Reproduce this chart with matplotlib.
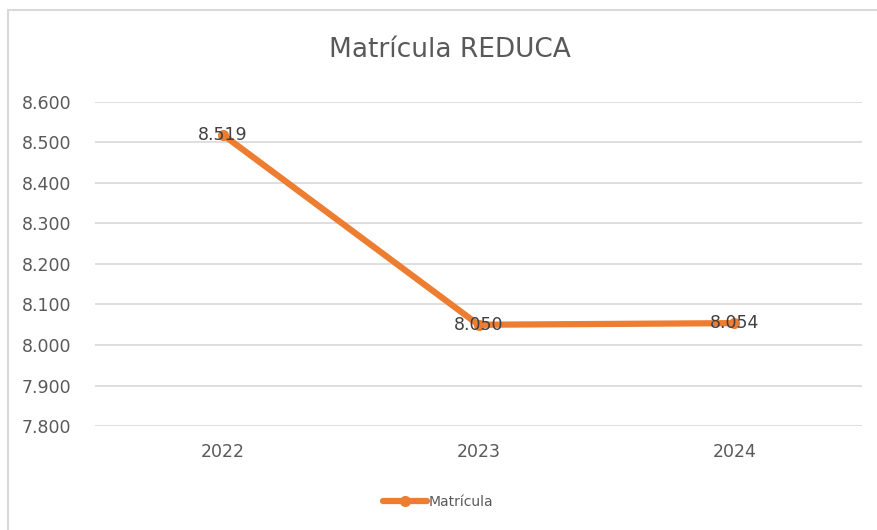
from matplotlib import pyplot as plt
from matplotlib.patches import Rectangle
from matplotlib.ticker import FuncFormatter
import numpy as np

years = ['2022', '2023', '2024']
matricula = [8519, 8050, 8054]
y_ticks = [7800, 7900, 8000, 8100, 8200, 8300, 8400, 8500, 8600]

orange = '#ED7D31'
grid_gray = '#D9D9D9'
text_gray = '#595959'

fig = plt.figure(figsize=(8.78, 5.30), dpi=100)
ax = fig.add_axes([0.108, 0.196, 0.874, 0.612])

# chart frame
fig.patches.append(Rectangle((8 / 878, -0.1), 1.0, 1 - 10 / 530 + 0.1, transform=fig.transFigure,
                             fill=False, edgecolor=grid_gray, linewidth=1.5))

x = np.arange(len(years))
ax.plot(x, matricula, color=orange, linewidth=4.5, marker='o', markersize=7,
        solid_capstyle='round', label='Matrícula', zorder=3)

for xi, v in zip(x, matricula):
    ax.text(xi, v, f'{v:,}'.replace(',', '.'), ha='center', va='center',
            fontsize=12.5, color='#404040', zorder=4)

ax.set_xlim(-0.5, len(years) - 0.5)
ax.set_ylim(7800, 8600)
ax.set_yticks(y_ticks)
ax.yaxis.set_major_formatter(FuncFormatter(lambda v, p: f'{int(v):,}'.replace(',', '.')))
ax.set_xticks(x)
ax.set_xticklabels(years)
ax.grid(axis='y', color=grid_gray, linewidth=1.2)
ax.set_axisbelow(True)
for s in ax.spines.values():
    s.set_visible(False)
ax.tick_params(length=0, labelsize=12.5, labelcolor=text_gray)
ax.tick_params(axis='y', pad=17)
ax.tick_params(axis='x', pad=12)

fig.text(0.512, 0.905, 'Matrícula REDUCA', ha='center', va='center', fontsize=19, color=text_gray)

ax.legend(loc='center', bbox_to_anchor=(0.447, -0.235), frameon=False, fontsize=10,
          labelcolor=text_gray, handlelength=3.2, handletextpad=0.1)

plt.savefig('out.png', dpi=100)
